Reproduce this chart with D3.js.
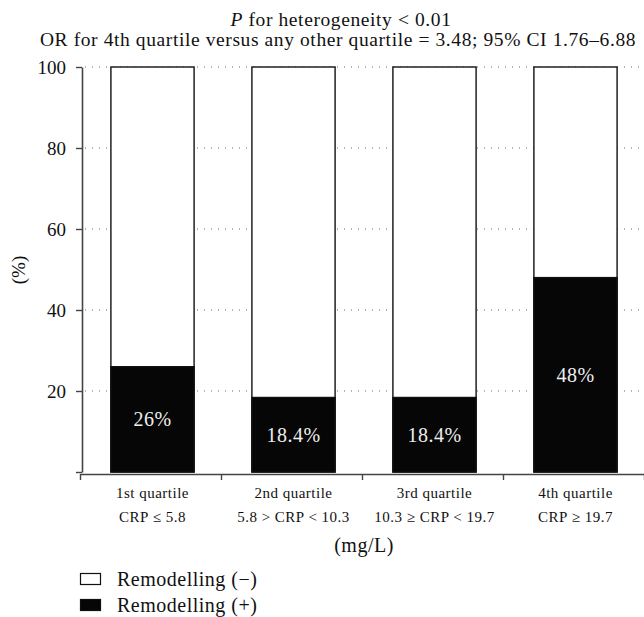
<!DOCTYPE html>
<html>
<head>
<meta charset="utf-8">
<script src="https://cdn.jsdelivr.net/npm/d3@7"></script>
<style>
  body { margin: 0; background: #fff; }
  svg text { font-family: "Liberation Serif", "DejaVu Serif", serif; }
</style>
</head>
<body>
<div id="chart"></div>
<script>
// quartiles of CRP and share of patients with positive remodelling
var quartiles = ["1st quartile", "2nd quartile", "3rd quartile", "4th quartile"];
var crpRanges = ["CRP \u2264 5.8", "5.8 > CRP < 10.3", "10.3 \u2265 CRP < 19.7", "CRP \u2265 19.7"];
var remodPos = [26, 18.4, 18.4, 48];
var posLabels = ["26%", "18.4%", "18.4%", "48%"];
var yTicks = [0, 20, 40, 60, 80, 100];
var legendItems = ["Remodelling (\u2212)", "Remodelling (+)"];

var width = 644, height = 617;
var mLeft = 82, mRight = 646, mTop = 67, mBottom = 472;

var svg = d3.select("#chart")
    .append("svg")
    .attr("width", width)
    .attr("height", height);

var x = d3.scaleBand()
    .domain(quartiles)
    .range([mLeft, mRight])
    .paddingInner(0.41)
    .paddingOuter(0.205);

var y = d3.scaleLinear()
    .domain([0, 100])
    .range([mBottom, mTop]);

// dotted grid lines
svg.selectAll(".grid")
    .data(yTicks.filter(function (d) { return d > 0; }))
    .enter()
    .append("line")
    .attr("class", "grid")
    .attr("x1", mLeft + 3)
    .attr("x2", width)
    .attr("y1", function (d) { return y(d); })
    .attr("y2", function (d) { return y(d); })
    .attr("stroke", "#666")
    .attr("stroke-width", 1)
    .attr("stroke-dasharray", "1,6");

// y axis
var yAxis = svg.append("g")
    .attr("transform", "translate(" + mLeft + ",0)")
    .call(d3.axisLeft(y)
        .tickValues(yTicks)
        .tickSize(6)
        .tickSizeOuter(0)
        .tickFormat(function (d) { return d === 0 ? "" : d; }));
yAxis.select(".domain").attr("stroke", "#444").attr("stroke-width", 1.6);
yAxis.selectAll(".tick line").attr("stroke", "#444").attr("stroke-width", 1.4);
yAxis.selectAll(".tick text")
    .attr("font-size", 19)
    .attr("fill", "#111")
    .attr("x", -16);

// x axis: ticks at the band boundaries
var xb = d3.scaleLinear().domain([0, 4]).range([mLeft - 2, mRight - 2]);
var xAxis = svg.append("g")
    .attr("transform", "translate(0," + (mBottom + 2) + ")")
    .call(d3.axisBottom(xb).ticks(4).tickSize(6).tickSizeOuter(0).tickFormat(""));
xAxis.select(".domain").attr("stroke", "#444").attr("stroke-width", 1.6);
xAxis.selectAll(".tick line").attr("stroke", "#444").attr("stroke-width", 1.4);

// bars: white full bar, black part at the bottom
var bar = svg.selectAll(".bar")
    .data(quartiles)
    .enter()
    .append("g")
    .attr("class", "bar");

bar.append("rect")
    .attr("x", function (d) { return x(d); })
    .attr("y", y(100))
    .attr("width", x.bandwidth())
    .attr("height", y(0) - y(100))
    .attr("fill", "#fff")
    .attr("stroke", "#111")
    .attr("stroke-width", 1.4);

bar.append("rect")
    .attr("x", function (d) { return x(d); })
    .attr("y", function (d, i) { return y(remodPos[i]); })
    .attr("width", x.bandwidth())
    .attr("height", function (d, i) { return y(0) - y(remodPos[i]); })
    .attr("fill", "#060606")
    .attr("stroke", "#111")
    .attr("stroke-width", 1.4);

bar.append("text")
    .attr("x", function (d) { return x(d) + x.bandwidth() / 2; })
    .attr("y", function (d, i) { return (y(0) + y(remodPos[i])) / 2; })
    .attr("dy", "0.35em")
    .attr("text-anchor", "middle")
    .attr("font-size", 20)
    .attr("letter-spacing", 0.5)
    .attr("fill", "#eee")
    .text(function (d, i) { return posLabels[i]; });

// category labels
bar.append("text")
    .attr("x", function (d) { return x(d) + x.bandwidth() / 2; })
    .attr("y", 493)
    .attr("dy", "0.35em")
    .attr("text-anchor", "middle")
    .attr("font-size", 15)
    .attr("letter-spacing", 0.5)
    .attr("fill", "#111")
    .text(function (d) { return d; });

bar.append("text")
    .attr("x", function (d) { return x(d) + x.bandwidth() / 2; })
    .attr("y", 517)
    .attr("dy", "0.35em")
    .attr("text-anchor", "middle")
    .attr("font-size", 15)
    .attr("letter-spacing", 0.5)
    .attr("fill", "#111")
    .text(function (d, i) { return crpRanges[i]; });

svg.append("text")
    .attr("x", 364)
    .attr("y", 545)
    .attr("dy", "0.35em")
    .attr("text-anchor", "middle")
    .attr("font-size", 20)
    .attr("letter-spacing", 0.5)
    .attr("fill", "#111")
    .text("(mg/L)");

svg.append("text")
    .attr("transform", "translate(18,270) rotate(-90)")
    .attr("dy", "0.35em")
    .attr("text-anchor", "middle")
    .attr("font-size", 19)
    .attr("fill", "#111")
    .text("(%)");

// titles
var t1 = svg.append("text")
    .attr("x", 341)
    .attr("y", 19)
    .attr("dy", "0.35em")
    .attr("text-anchor", "middle")
    .attr("font-size", 19.5)
    .attr("letter-spacing", 0.6)
    .attr("fill", "#111");
t1.append("tspan").attr("font-style", "italic").text("P");
t1.append("tspan").text(" for heterogeneity < 0.01");

svg.append("text")
    .attr("x", 338)
    .attr("y", 39)
    .attr("dy", "0.35em")
    .attr("text-anchor", "middle")
    .attr("font-size", 19.5)
    .attr("letter-spacing", 0.6)
    .attr("fill", "#111")
    .text("OR for 4th quartile versus any other quartile = 3.48; 95% CI 1.76\u20136.88");

// legend
var legend = svg.selectAll(".legend")
    .data(legendItems)
    .enter()
    .append("g")
    .attr("class", "legend")
    .attr("transform", function (d, i) { return "translate(80," + (579 + i * 26) + ")"; });

legend.append("rect")
    .attr("x", 0.5)
    .attr("y", -5.5)
    .attr("width", 20)
    .attr("height", 11)
    .attr("fill", function (d, i) { return i === 0 ? "#fff" : "#060606"; })
    .attr("stroke", "#111")
    .attr("stroke-width", 1.2);

legend.append("text")
    .attr("x", 37)
    .attr("y", 0)
    .attr("dy", "0.35em")
    .attr("font-size", 20)
    .attr("letter-spacing", 0.5)
    .attr("fill", "#111")
    .text(function (d) { return d; });
</script>
</body>
</html>
